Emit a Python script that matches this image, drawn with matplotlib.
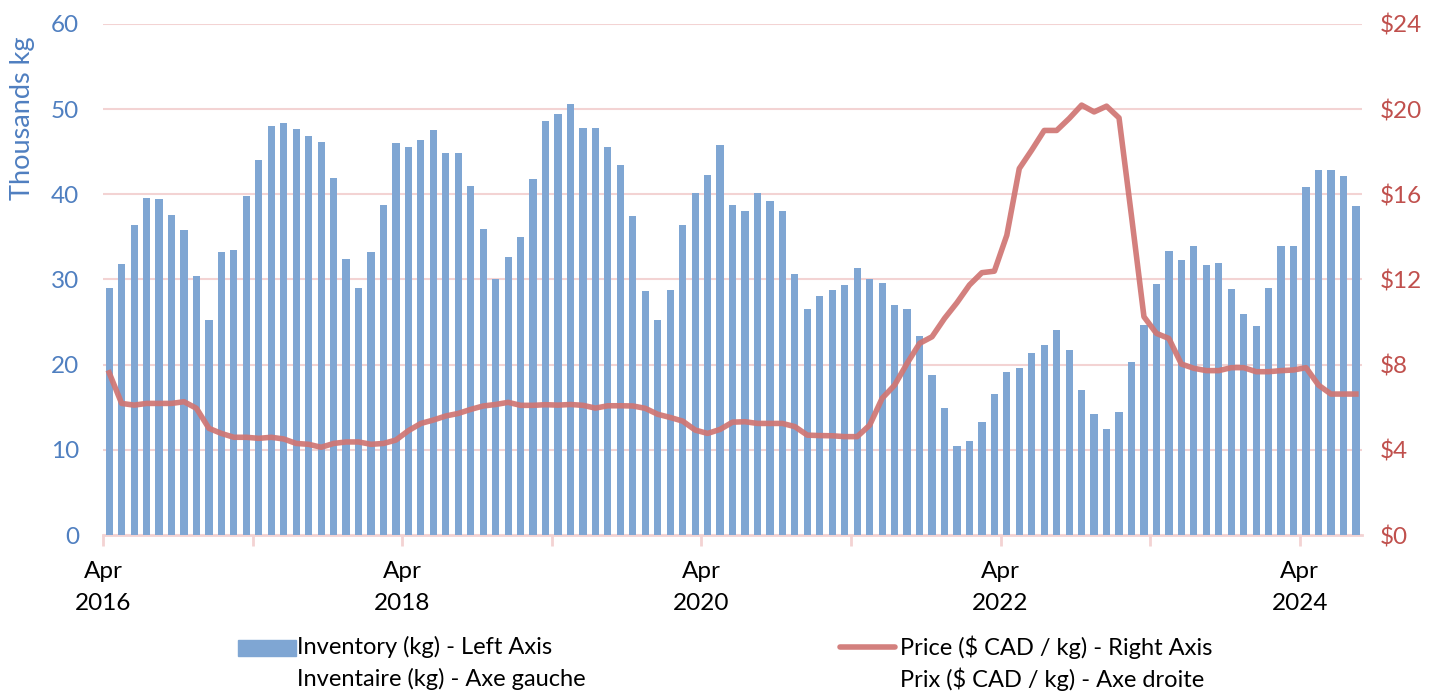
import numpy as np
import matplotlib
matplotlib.use("Agg")
import matplotlib.pyplot as plt
from matplotlib.patches import Rectangle
from matplotlib.lines import Line2D

plt.rcParams["font.family"] = ["Lato", "DejaVu Sans"]

# monthly, Apr 2016 .. Aug 2024
inventory = [
    29.0, 31.8, 36.4, 39.6, 39.4, 37.6, 35.8, 30.4, 25.2, 33.2, 33.5, 39.8,
    44.0, 48.0, 48.4, 47.7, 46.8, 46.1, 41.9, 32.4, 29.0, 33.2, 38.7, 46.0,
    45.5, 46.4, 47.5, 44.9, 44.9, 41.0, 35.9, 30.1, 32.6, 35.0, 41.8, 48.6,
    49.4, 50.6, 47.8, 47.8, 45.6, 43.5, 37.4, 28.6, 25.3, 28.8, 36.4, 40.1,
    42.3, 45.8, 38.7, 38.0, 40.1, 39.2, 38.1, 30.6, 26.5, 28.1, 28.8, 29.3,
    31.3, 30.0, 29.6, 27.0, 26.5, 23.4, 18.8, 14.9, 10.5, 11.0, 13.3, 16.5,
    19.1, 19.6, 21.4, 22.3, 24.1, 21.7, 17.0, 14.2, 12.5, 14.5, 20.3, 24.7,
    29.5, 33.4, 32.3, 33.9, 31.7, 31.9, 28.9, 25.9, 24.5, 29.0, 33.9, 33.9,
    40.9, 42.8, 42.8, 42.1, 38.6,
]
price = [
    7.62, 6.18, 6.10, 6.18, 6.18, 6.18, 6.26, 5.95, 5.01, 4.77, 4.59, 4.59,
    4.54, 4.59, 4.51, 4.30, 4.26, 4.12, 4.30, 4.37, 4.37, 4.26, 4.30, 4.46,
    4.90, 5.24, 5.40, 5.59, 5.71, 5.90, 6.06, 6.13, 6.23, 6.09, 6.09, 6.12,
    6.10, 6.13, 6.09, 5.96, 6.07, 6.07, 6.06, 5.95, 5.67, 5.52, 5.35, 4.93,
    4.77, 4.96, 5.30, 5.32, 5.24, 5.24, 5.24, 5.09, 4.69, 4.67, 4.66, 4.62,
    4.62, 5.16, 6.42, 7.04, 8.06, 9.00, 9.31, 10.17, 10.91, 11.74, 12.32, 12.39,
    14.08, 17.21, 18.08, 19.00, 19.00, 19.56, 20.19, 19.87, 20.14, 19.59, 14.98, 10.25,
    9.47, 9.23, 8.03, 7.83, 7.72, 7.72, 7.86, 7.86, 7.67, 7.67, 7.72, 7.75,
    7.86, 7.04, 6.62, 6.62, 6.62,
]
tick_labels = ["Apr\n2016", "", "Apr\n2018", "", "Apr\n2020", "",
               "Apr\n2022", "", "Apr\n2024"]
left_ticks = [0, 10, 20, 30, 40, 50, 60]
right_ticks = [0, 4, 8, 12, 16, 20, 24]

bar_color = "#7fa6d3"
line_color = "#d07573"
blue_text = "#4f7fc0"
red_text = "#c0504d"
grid_color = "#f3d3d3"

x = np.arange(len(inventory))

fig = plt.figure(figsize=(14.46, 6.95), dpi=100)
ax = fig.add_axes([0.0712, 0.2302, 0.8708, 0.7353])
ax2 = ax.twinx()

ax.bar(x, inventory, width=0.58, color=bar_color, zorder=2)
ax2.plot(x, price, color=line_color, lw=4, alpha=0.92,
         solid_joinstyle="round", zorder=3)

ax.set_xlim(-0.5, len(inventory) - 0.5)
ax.set_ylim(0, 60)
ax2.set_ylim(0, 24)
ax.set_yticks(left_ticks)
ax2.set_yticks(right_ticks)
ax2.set_yticklabels([f"${v}" for v in right_ticks])

ax.set_xticks([-0.5 + 12 * i for i in range(len(tick_labels))])
ax.set_xticklabels(tick_labels, linespacing=1.6)

for a in (ax, ax2):
    for s in a.spines.values():
        s.set_visible(False)
ax.spines["bottom"].set_visible(True)
ax.spines["bottom"].set_color(grid_color)
ax.spines["bottom"].set_linewidth(2)
ax.spines["bottom"].set_zorder(1)

ax.grid(axis="y", color=grid_color, lw=1.5, zorder=0)
ax.set_axisbelow(True)

ax.tick_params(axis="x", length=8, width=2, color=grid_color,
               labelsize=17.5, pad=11, labelcolor="black")
ax.tick_params(axis="y", length=0, labelsize=17.5, labelcolor=blue_text, pad=17)
ax2.tick_params(axis="y", length=0, labelsize=17.5, labelcolor=red_text, pad=13)

ax.set_ylabel("Thousands kg", color=blue_text, fontsize=19.5)
ax.yaxis.set_label_coords(-0.054, 0.815)

# legend drawn in figure coordinates
W, H = 1446, 695
fig.patches.append(Rectangle((238 / W, 1 - 656 / H), 58 / W, 16 / H,
                             transform=fig.transFigure, color=bar_color))
fig.lines.append(Line2D([840 / W, 895 / W], [1 - 647 / H] * 2,
                        transform=fig.transFigure, color=line_color,
                        lw=4, alpha=0.92, solid_capstyle="round"))
leg_kw = dict(fontsize=17, va="center", ha="left", color="black")
fig.text(297 / W, 1 - 647 / H, "Inventory (kg) - Left Axis", **leg_kw)
fig.text(297 / W, 1 - 679 / H, "Inventaire (kg) - Axe gauche", **leg_kw)
fig.text(900 / W, 1 - 647 / H, "Price ($ CAD / kg) - Right Axis", **leg_kw)
fig.text(900 / W, 1 - 679 / H, "Prix ($ CAD / kg) - Axe droite", **leg_kw)

fig.savefig("out.png", dpi=100, facecolor="white")
